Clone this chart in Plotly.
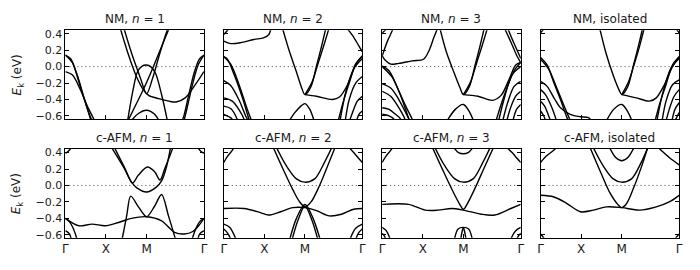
import math
import plotly.graph_objects as go

# ---------------- data ----------------
K_GAMMA0 = 0.0
K_X = 1.0
K_M = 2.0
K_GAMMA1 = 2.0 + math.sqrt(2.0)
KPATH_POS = [K_GAMMA0, K_X, K_M, K_GAMMA1]
KPATH_LABELS = ["Γ", "X", "M", "Γ"]

Y_TICKS = [0.4, 0.2, 0.0, -0.2, -0.4, -0.6]
Y_TICK_TEXT = ["0.4", "0.2", "0.0", "−0.2", "−0.4", "−0.6"]
Y_RANGE = [-0.636, 0.442]

TITLES_TOP = ["NM, <i>n</i> = 1", "NM, <i>n</i> = 2", "NM, <i>n</i> = 3", "NM, isolated"]
TITLES_BOT = ["c-AFM, <i>n</i> = 1", "c-AFM, <i>n</i> = 2", "c-AFM, <i>n</i> = 3", "c-AFM, isolated"]

# each band: (k values along Γ-X-M-Γ, energy in eV)
NM_N1 = [
    ([0, 0.13, 0.29, 0.46, 0.62, 0.66], [0.14, 0.095, -0.10, -0.38, -0.64, -0.70]),
    ([0, 0.17, 0.33, 0.50, 0.64, 0.70], [0.14, 0.05, -0.18, -0.45, -0.64, -0.70]),
    ([0, 0.17, 0.37, 0.54, 0.70, 0.74], [-0.06, -0.10, -0.28, -0.48, -0.64, -0.70]),
    ([3.414, 3.30, 3.17, 3.05, 2.93, 2.85], [0.14, 0.09, -0.08, -0.32, -0.58, -0.70]),
    ([3.414, 3.27, 3.13, 3.00, 2.90], [0.14, 0.02, -0.22, -0.50, -0.70]),
    ([1.35, 1.55, 1.75, 1.92, 2.05, 2.30, 2.55, 2.73, 2.95, 3.20, 3.414],
     [0.47, 0.15, -0.12, -0.28, -0.35, -0.39, -0.42, -0.43, -0.38, -0.22, -0.06]),
    ([1.44, 1.64, 1.85, 2.0, 2.15, 2.32, 2.50, 2.56], [0.47, 0.15, -0.14, -0.33, -0.14, 0.15, 0.43, 0.50]),
    ([1.50, 1.70, 1.90, 2.10, 2.30, 2.56], [-0.70, -0.50, -0.30, -0.08, 0.16, 0.47]),
    ([1.52, 1.66, 1.78, 1.90, 2.0, 2.10, 2.22, 2.38, 2.53], [-0.70, -0.30, -0.06, 0.01, 0.02, 0.0, -0.08, -0.36, -0.70]),
    ([1.55, 1.80, 2.0, 2.20, 2.35], [-0.70, -0.57, -0.53, -0.58, -0.70]),
]

NM_N2 = [
    ([0, 0.17, 0.41, 0.74, 0.98, 1.11, 1.15, 1.17], [0.31, 0.28, 0.29, 0.33, 0.35, 0.39, 0.44, 0.47]),
    ([0, 0.09, 0.12], [0.39, 0.44, 0.47]),
    ([1.45, 1.62, 1.78, 1.92, 2.0, 2.15, 2.28, 2.40, 2.52], [0.46, 0.18, -0.05, -0.26, -0.34, -0.24, 0.0, 0.23, 0.48]),
    ([2.0, 2.18, 2.33, 2.46, 2.60], [-0.34, -0.18, 0.05, 0.25, 0.48]),
    ([2.0, 2.28, 2.68, 2.85, 3.05, 3.25, 3.414], [-0.34, -0.36, -0.40, -0.37, -0.22, 0.03, 0.13]),
    ([1.56, 1.75, 1.90, 2.0, 2.12, 2.25], [-0.70, -0.56, -0.48, -0.45, -0.52, -0.70]),
    ([0, 0.09, 0.25, 0.46, 0.62, 0.66], [0.12, 0.09, -0.09, -0.38, -0.64, -0.70]),
    ([0, 0.17, 0.37, 0.58, 0.67, 0.70], [0.12, 0.03, -0.21, -0.52, -0.64, -0.70]),
    ([0, 0.17, 0.37, 0.54, 0.58, 0.60], [-0.17, -0.23, -0.40, -0.60, -0.64, -0.70]),
    ([0, 0.21, 0.37, 0.50, 0.53], [-0.38, -0.42, -0.52, -0.64, -0.70]),
    ([0, 0.17, 0.33, 0.36], [-0.48, -0.51, -0.64, -0.70]),
    ([0, 0.13, 0.21, 0.23], [-0.58, -0.61, -0.64, -0.70]),
    ([3.414, 3.25, 3.09, 2.93, 2.80], [0.13, 0.03, -0.20, -0.45, -0.70]),
    ([3.414, 3.21, 3.01, 2.85], [0.10, -0.02, -0.30, -0.70]),
    ([3.414, 3.25, 3.09, 2.98], [-0.12, -0.20, -0.40, -0.70]),
    ([3.414, 3.29, 3.17, 3.07], [-0.36, -0.42, -0.56, -0.70]),
    ([3.414, 3.33, 3.25], [-0.54, -0.58, -0.70]),
    ([2.98, 3.17, 3.33, 3.414], [0.50, 0.38, 0.25, 0.18]),
]

NM_N3 = [
    ([0, 0.09, 0.11], [0.41, 0.45, 0.47]),
    ([0, 0.13, 0.25, 0.27], [0.13, 0.31, 0.44, 0.47]),
    ([0, 0.09, 0.21, 0.41, 0.74, 1.02, 1.15, 1.27, 1.36], [0.13, 0.07, 0.03, 0.04, 0.07, 0.09, 0.19, 0.35, 0.46]),
    ([1.42, 1.58, 1.76, 1.92, 2.0, 2.15, 2.28, 2.40, 2.52], [0.47, 0.18, -0.06, -0.26, -0.34, -0.24, 0.0, 0.23, 0.48]),
    ([2.0, 2.18, 2.33, 2.46, 2.60], [-0.34, -0.18, 0.05, 0.25, 0.48]),
    ([2.0, 2.36, 2.72, 2.93, 3.13, 3.29, 3.414], [-0.34, -0.36, -0.41, -0.35, -0.15, 0.02, 0.05]),
    ([1.55, 1.80, 2.0, 2.15, 2.28], [-0.70, -0.52, -0.46, -0.55, -0.70]),
    ([0, 0.17, 0.37, 0.58, 0.74, 0.78], [0.01, -0.05, -0.25, -0.48, -0.64, -0.70]),
    ([0, 0.25, 0.46, 0.66, 0.70], [0.0, -0.13, -0.36, -0.64, -0.70]),
    ([0, 0.21, 0.41, 0.62, 0.66, 0.68], [-0.21, -0.26, -0.40, -0.60, -0.64, -0.70]),
    ([0, 0.21, 0.41, 0.56, 0.59], [-0.30, -0.36, -0.50, -0.64, -0.70]),
    ([0, 0.17, 0.33, 0.46, 0.49], [-0.50, -0.52, -0.58, -0.64, -0.70]),
    ([0, 0.17, 0.29, 0.31], [-0.58, -0.60, -0.64, -0.70]),
    ([3.414, 3.25, 3.09, 2.93, 2.78], [0.05, -0.05, -0.24, -0.46, -0.70]),
    ([3.414, 3.20, 3.00, 2.85], [0.0, -0.10, -0.40, -0.70]),
    ([3.414, 3.25, 3.09, 2.95], [-0.18, -0.24, -0.44, -0.70]),
    ([3.414, 3.29, 3.15, 3.05], [-0.30, -0.36, -0.52, -0.70]),
    ([3.414, 3.31, 3.20], [-0.46, -0.52, -0.70]),
    ([3.00, 3.17, 3.33, 3.414], [0.48, 0.30, 0.12, 0.05]),
    ([3.08, 3.25, 3.414], [0.48, 0.28, 0.10]),
]

NM_ISO = [
    ([0, 0.10], [0.41, 0.47]),
    ([3.414, 3.33], [0.41, 0.47]),
    ([1.44, 1.62, 1.80, 1.93, 2.0, 2.15, 2.28, 2.40, 2.52], [0.50, 0.15, -0.12, -0.28, -0.34, -0.24, 0.0, 0.23, 0.48]),
    ([2.0, 2.17, 2.32, 2.44, 2.56], [-0.34, -0.18, 0.05, 0.25, 0.48]),
    ([2.0, 2.36, 2.68, 2.85, 3.05, 3.25, 3.414], [-0.34, -0.38, -0.42, -0.38, -0.22, 0.0, 0.12]),
    ([1.58, 1.80, 2.0, 2.15, 2.28], [-0.70, -0.52, -0.46, -0.55, -0.70]),
    ([0, 0.16, 0.33, 0.49, 0.65, 0.73], [0.11, 0.02, -0.20, -0.40, -0.62, -0.70]),
    ([0, 0.20, 0.40, 0.58, 0.77], [0.09, -0.03, -0.26, -0.48, -0.70]),
    ([0, 0.16, 0.33, 0.49, 0.73, 0.98, 1.18, 1.30], [-0.18, -0.24, -0.38, -0.50, -0.58, -0.61, -0.62, -0.70]),
    ([0, 0.12, 0.28, 0.42], [-0.28, -0.34, -0.50, -0.70]),
    ([0, 0.10, 0.20, 0.28], [-0.42, -0.48, -0.60, -0.70]),
    ([0, 0.08, 0.15], [-0.54, -0.60, -0.70]),
    ([3.414, 3.25, 3.09, 2.93, 2.80], [0.12, 0.02, -0.22, -0.46, -0.70]),
    ([3.414, 3.21, 3.01, 2.85], [0.10, -0.02, -0.32, -0.70]),
    ([3.414, 3.25, 3.09, 2.98], [-0.16, -0.22, -0.42, -0.70]),
    ([3.414, 3.29, 3.17, 3.07], [-0.28, -0.36, -0.52, -0.70]),
    ([3.414, 3.31, 3.22], [-0.44, -0.52, -0.70]),
    ([3.414, 3.35, 3.28], [-0.56, -0.62, -0.70]),
]

AFM_N1 = [
    ([0, 0.08, 0.15], [0.39, 0.42, 0.46]),
    ([3.414, 3.33, 3.26], [0.39, 0.42, 0.46]),
    ([1.14, 1.43, 1.63, 1.76, 2.0, 2.24, 2.37, 2.49, 2.59], [0.46, 0.225, 0.04, -0.03, -0.08, -0.02, 0.055, 0.225, 0.46]),
    ([1.21, 1.47, 1.65, 1.80, 2.02, 2.20, 2.33, 2.45, 2.65], [0.46, 0.205, 0.03, 0.126, 0.225, 0.166, 0.067, 0.205, 0.46]),
    ([1.38, 1.51, 1.61, 1.80, 2.0, 2.20, 2.37, 2.54, 2.74], [-0.70, -0.37, -0.13, -0.26, -0.38, -0.25, -0.11, -0.37, -0.70]),
    ([0, 0.33, 0.66, 0.98, 1.31, 1.63, 2.0, 2.37, 2.69, 2.93, 3.14, 3.30, 3.414],
     [-0.40, -0.49, -0.47, -0.49, -0.45, -0.40, -0.38, -0.43, -0.57, -0.59, -0.56, -0.48, -0.40]),
    ([0, 0.10, 0.20, 0.28, 0.32], [-0.40, -0.44, -0.53, -0.64, -0.70]),
    ([0, 0.10, 0.17], [-0.55, -0.59, -0.70]),
    ([3.414, 3.31, 3.21, 3.13, 3.09], [-0.40, -0.44, -0.53, -0.64, -0.70]),
    ([3.414, 3.31, 3.24], [-0.55, -0.59, -0.70]),
]

AFM_N2 = [
    ([0, 0.10, 0.20, 0.25], [0.28, 0.36, 0.42, 0.46]),
    ([3.09, 3.20, 3.32, 3.414], [0.46, 0.40, 0.33, 0.28]),
    ([1.30, 1.54, 1.79, 2.0, 2.24, 2.48, 2.66], [0.46, 0.24, 0.08, 0.04, 0.08, 0.28, 0.46]),
    ([1.22, 1.46, 1.71, 1.87, 2.0, 2.15, 2.36, 2.56, 2.74], [0.46, 0.20, -0.06, -0.20, -0.26, -0.20, 0.0, 0.24, 0.46]),
    ([1.60, 1.79, 2.0, 2.20, 2.40], [-0.70, -0.40, -0.23, -0.40, -0.70]),
    ([1.66, 1.83, 2.0, 2.17, 2.34], [-0.70, -0.42, -0.25, -0.42, -0.70]),
    ([0, 0.50, 0.90, 1.10, 1.40, 1.70, 2.0, 2.30, 2.60, 2.90, 3.20, 3.414],
     [-0.28, -0.28, -0.33, -0.36, -0.32, -0.27, -0.27, -0.31, -0.37, -0.35, -0.29, -0.28]),
    ([0, 0.15, 0.28, 0.33], [-0.47, -0.51, -0.63, -0.70]),
    ([0, 0.08, 0.15, 0.18], [-0.53, -0.57, -0.63, -0.70]),
    ([3.414, 3.25, 3.13, 3.09], [-0.47, -0.52, -0.63, -0.70]),
    ([3.414, 3.33, 3.27, 3.24], [-0.53, -0.57, -0.63, -0.70]),
]

AFM_N3 = [
    ([0, 0.10, 0.20, 0.26], [0.28, 0.36, 0.42, 0.46]),
    ([3.07, 3.20, 3.32, 3.414], [0.46, 0.40, 0.33, 0.28]),
    ([1.75, 1.88, 2.0, 2.12, 2.25], [0.47, 0.40, 0.385, 0.40, 0.47]),
    ([1.30, 1.54, 1.79, 2.0, 2.24, 2.48, 2.66], [0.46, 0.24, 0.08, 0.04, 0.08, 0.28, 0.46]),
    ([1.24, 1.50, 1.75, 1.90, 2.0, 2.10, 2.30, 2.50, 2.74], [0.46, 0.18, -0.08, -0.22, -0.29, -0.22, -0.02, 0.20, 0.46]),
    ([0, 0.65, 1.06, 1.38, 1.71, 2.0, 2.44, 2.77, 3.17, 3.414],
     [-0.23, -0.23, -0.30, -0.30, -0.28, -0.30, -0.35, -0.36, -0.28, -0.23]),
    ([1.76, 1.87, 2.0, 2.13, 2.24], [-0.70, -0.53, -0.51, -0.53, -0.70]),
    ([1.92, 1.97, 2.0, 2.03, 2.08], [-0.70, -0.56, -0.51, -0.56, -0.70]),
    ([0, 0.10, 0.18, 0.22], [-0.51, -0.55, -0.63, -0.70]),
    ([0, 0.06, 0.11], [-0.58, -0.62, -0.70]),
    ([3.414, 3.29, 3.19, 3.15], [-0.51, -0.55, -0.63, -0.70]),
    ([3.414, 3.35, 3.30], [-0.58, -0.62, -0.70]),
]

AFM_ISO = [
    ([0, 0.15, 0.33, 0.38], [0.28, 0.36, 0.43, 0.46]),
    ([2.90, 3.17, 3.414], [0.46, 0.34, 0.25]),
    ([1.70, 1.85, 2.0, 2.15, 2.30], [0.46, 0.34, 0.30, 0.34, 0.46]),
    ([1.30, 1.54, 1.79, 2.0, 2.24, 2.48, 2.64], [0.46, 0.24, 0.08, 0.04, 0.08, 0.28, 0.46]),
    ([1.22, 1.48, 1.72, 1.90, 2.0, 2.12, 2.30, 2.48, 2.64], [0.46, 0.16, -0.10, -0.23, -0.27, -0.22, -0.02, 0.22, 0.46]),
    ([0, 0.33, 0.65, 0.98, 1.30, 1.63, 2.0, 2.44, 2.85, 3.17, 3.414],
     [-0.12, -0.14, -0.22, -0.32, -0.30, -0.26, -0.27, -0.30, -0.26, -0.20, -0.12]),
    ([0, 0.08, 0.12], [-0.59, -0.64, -0.70]),
    ([3.414, 3.33, 3.29], [-0.59, -0.64, -0.70]),
]

TOP_PANELS = [NM_N1, NM_N2, NM_N3, NM_ISO]
BOT_PANELS = [AFM_N1, AFM_N2, AFM_N3, AFM_ISO]

# ---------------- layout geometry ----------------
W, H = 700, 270
COL_PX = [(63, 203), (223, 363), (383, 523), (543, 683)]
ROW_PX = [(28, 119), (150, 241)]
FONT = "DejaVu Sans, Liberation Sans, sans-serif"
TXT = "#1a1a1a"

fig = go.Figure()
layout = dict(
    width=W, height=H,
    margin=dict(l=0, r=0, t=0, b=0),
    paper_bgcolor="white", plot_bgcolor="white",
    showlegend=False,
    hovermode=False,
    font=dict(family=FONT, size=11, color=TXT),
)
annotations = []

idx = 0
for r, (panels, titles) in enumerate([(TOP_PANELS, TITLES_TOP), (BOT_PANELS, TITLES_BOT)]):
    y0, y1 = ROW_PX[r]
    for c in range(4):
        idx += 1
        x0, x1 = COL_PX[c]
        xa = "x" if idx == 1 else f"x{idx}"
        ya = "y" if idx == 1 else f"y{idx}"
        xkey = "xaxis" if idx == 1 else f"xaxis{idx}"
        ykey = "yaxis" if idx == 1 else f"yaxis{idx}"
        fig.add_trace(go.Scatter(
            x=[KPATH_POS[0], KPATH_POS[-1]], y=[0, 0], mode="lines",
            line=dict(color="#444444", width=1, dash="1px,3px"),
            xaxis=xa, yaxis=ya, hoverinfo="skip"))
        for ks, es in panels[c]:
            fig.add_trace(go.Scatter(
                x=ks, y=es, mode="lines",
                line=dict(color="black", width=1.4, shape="spline", smoothing=0.9),
                xaxis=xa, yaxis=ya, hoverinfo="skip"))
        layout[xkey] = dict(
            domain=[x0 / W, x1 / W], anchor=ya,
            range=[KPATH_POS[0], KPATH_POS[-1]],
            tickvals=KPATH_POS, ticktext=KPATH_LABELS,
            showticklabels=(r == 1),
            ticks="inside", ticklen=4, tickwidth=1, tickcolor="black",
            showline=True, linecolor="black", linewidth=1, mirror=True,
            showgrid=False, zeroline=False,
            tickfont=dict(family=FONT, size=12, color=TXT),
        )
        layout[ykey] = dict(
            domain=[1 - y1 / H, 1 - y0 / H], anchor=xa,
            range=Y_RANGE,
            tickvals=Y_TICKS, ticktext=Y_TICK_TEXT,
            showticklabels=(c == 0),
            ticks="inside", ticklen=4, tickwidth=1, tickcolor="black",
            showline=True, linecolor="black", linewidth=1, mirror="ticks",
            showgrid=False, zeroline=False,
            tickfont=dict(family=FONT, size=11, color=TXT),
        )
        annotations.append(dict(
            text=titles[c], x=(x0 + x1) / 2 / W, y=1 - (y0 - 11.5) / H,
            xref="paper", yref="paper", xanchor="center", yanchor="middle",
            showarrow=False, font=dict(family=FONT, size=12, color=TXT)))
    annotations.append(dict(
        text="<i>E</i><sub>k</sub> (eV)", x=15 / W, y=1 - (y0 + y1) / 2 / H,
        xref="paper", yref="paper", xanchor="center", yanchor="middle",
        textangle=-90, showarrow=False, font=dict(family=FONT, size=12, color=TXT)))

layout["annotations"] = annotations
fig.update_layout(**layout)
fig.write_html("out.html", config={"displayModeBar": False},
               post_script="document.body.style.margin='0px';")
